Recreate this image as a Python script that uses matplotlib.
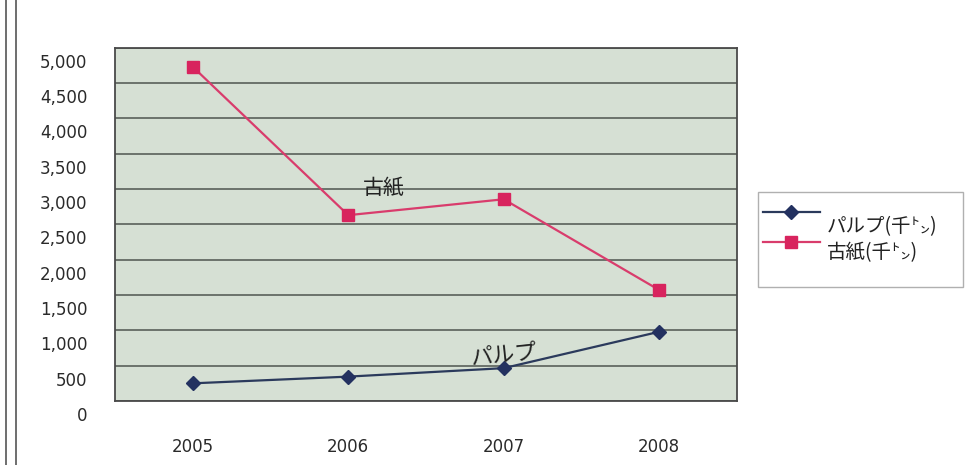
import matplotlib
matplotlib.use("Agg")
import matplotlib.pyplot as plt
import matplotlib.transforms as mtrans
from matplotlib.lines import Line2D

plt.rcParams['font.family'] = ['Noto Sans CJK JP', 'DejaVu Sans']

years = ["2005", "2006", "2007", "2008"]
pulp = [250, 345, 465, 980]        # パルプ(千㌧)
kosi = [4730, 2630, 2855, 1570]    # 古紙(千㌧)
yticks = [0, 500, 1000, 1500, 2000, 2500, 3000, 3500, 4000, 4500, 5000]
ytick_labels = ["0", "500", "1,000", "1,500", "2,000", "2,500", "3,000",
                "3,500", "4,000", "4,500", "5,000"]
series_names = ["パルプ(千㌧)", "古紙(千㌧)"]

W, H = 971, 465
fig = plt.figure(figsize=(W / 100, H / 100), dpi=100)
fig.patch.set_facecolor("white")

ax = fig.add_axes([115 / W, 1 - 401 / H, 622 / W, 353.3 / H])
ax.set_facecolor("#d6e0d4")

x = range(len(years))
pulp_color = "#2b3a5c"
kosi_color = "#d93c6c"
ax.plot(x, pulp, color=pulp_color, lw=1.6, marker="D", ms=7,
        mfc="#233160", mec="#233160", zorder=3)
ax.plot(x, kosi, color=kosi_color, lw=1.6, marker="s", ms=8,
        mfc="#d8245e", mec="#d8245e", zorder=3)

ax.set_xlim(-0.5, 3.5)
ax.set_ylim(0, 5000)
ax.set_yticks(yticks)
ax.set_yticklabels(ytick_labels, family="DejaVu Sans")
ax.set_xticks(list(x))
ax.set_xticklabels(years, family="DejaVu Sans")
ax.tick_params(axis="y", length=0, pad=20, labelsize=12, colors="#2a2a2a")
ax.tick_params(axis="x", length=0, pad=27, labelsize=12, colors="#2a2a2a")
shift = mtrans.ScaledTranslation(0, -0.13, fig.dpi_scale_trans)
for lab in ax.get_yticklabels():
    lab.set_transform(lab.get_transform() + shift)
ax.yaxis.grid(True, color="#4f554f", lw=1.1)
ax.set_axisbelow(True)
for s in ax.spines.values():
    s.set_color("#4a4a4a")
    s.set_linewidth(1.3)

# in-chart labels
ax.text(1.23, 3020, "古紙", fontsize=15, color="#222222",
        ha="center", va="center")
ax.text(2.0, 650, "パルプ", fontsize=16, color="#222222",
        ha="center", va="center", rotation=6)

# legend (manual)
fig.add_artist(plt.Rectangle((758 / W, 1 - 287 / H), 205 / W, 95 / H,
                             transform=fig.transFigure, fill=False,
                             ec="#b0b0b0", lw=1.0))
entries = [(212, 227, pulp_color, "D", "#233160", 7),
           (242, 253, kosi_color, "s", "#d8245e", 8)]
for (ly, ty, col, mk, mcol, ms), name in zip(entries, series_names):
    fig.add_artist(Line2D([763 / W, 820 / W], [1 - ly / H, 1 - ly / H],
                          transform=fig.transFigure, color=col, lw=1.6))
    fig.add_artist(Line2D([791 / W], [1 - ly / H], transform=fig.transFigure,
                          marker=mk, ms=ms, mfc=mcol, mec=mcol, lw=0))
    fig.text(827 / W, 1 - ty / H, name, fontsize=14, color="#222222",
             ha="left", va="center")

# left frame lines
for xx in (5.5, 16):
    fig.add_artist(Line2D([xx / W, xx / W], [0, 1], transform=fig.transFigure,
                          color="#555555", lw=1.2))

fig.savefig("out.png", dpi=100, facecolor="white")
